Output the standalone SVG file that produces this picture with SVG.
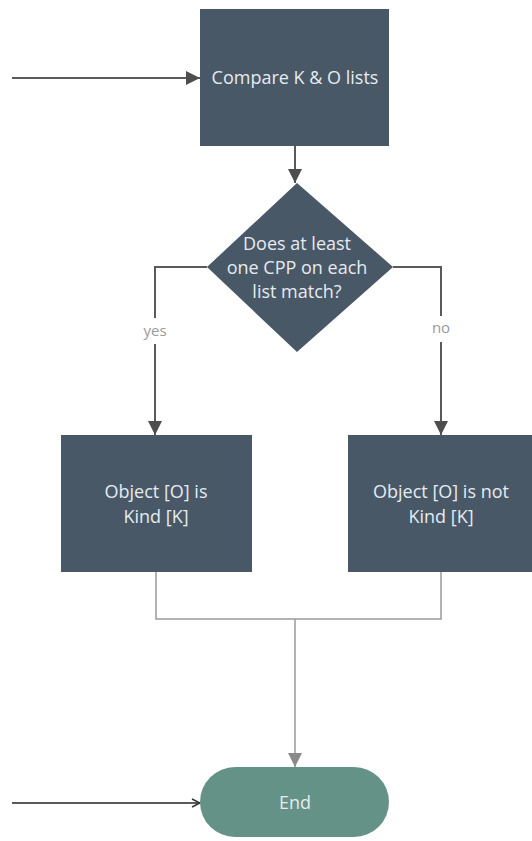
<svg xmlns="http://www.w3.org/2000/svg" width="532" height="841" viewBox="0 0 532 841">
<defs>
<style>
.node{fill:#485867;}
.t{font-family:"Open Sans","Liberation Sans",sans-serif;font-size:18px;fill:#e6ebef;text-anchor:middle;}
.lbl{font-family:"Open Sans","Liberation Sans",sans-serif;font-size:15px;fill:#9a9a9a;text-anchor:middle;}
.c{fill:none;stroke:#5a5a5a;stroke-width:2;}
.cl{fill:none;stroke:#9a9a9a;stroke-width:1.5;}
</style>
<marker id="ah" viewBox="0 0 10 10" refX="10" refY="5" markerWidth="14" markerHeight="14" markerUnits="userSpaceOnUse" orient="auto"><path d="M0,0 L10,5 L0,10 Z" fill="#4e4e4e"/></marker>
<marker id="ahg" viewBox="0 0 10 10" refX="10" refY="5" markerWidth="14" markerHeight="14" markerUnits="userSpaceOnUse" orient="auto"><path d="M0,0 L10,5 L0,10 Z" fill="#8a8a8a"/></marker>
<marker id="ao" viewBox="0 0 10 10" refX="9" refY="5" markerWidth="10" markerHeight="10" markerUnits="userSpaceOnUse" orient="auto"><path d="M1,1 L9,5 L1,9" fill="none" stroke="#333" stroke-width="1.5"/></marker>
</defs>
<g id="connectors">
<line class="c" x1="12" y1="78" x2="200" y2="78" marker-end="url(#ah)"/>
<line class="c" x1="295" y1="146" x2="295" y2="183" marker-end="url(#ah)"/>
<polyline class="c" points="207,267 155,267 155,318"/>
<polyline class="c" points="155,344 155,435" marker-end="url(#ah)"/>
<polyline class="c" points="393,267 441,267 441,316"/>
<polyline class="c" points="441,342 441,435" marker-end="url(#ah)"/>
<polyline class="cl" points="156,572 156,619 441,619 441,572"/>
<line class="cl" x1="295" y1="619" x2="295" y2="767" marker-end="url(#ahg)"/>
<line class="c" x1="12" y1="803" x2="200" y2="803" stroke="#444" stroke-width="1.5" marker-end="url(#ao)"/>
<text class="lbl" x="155" y="336">yes</text>
<text class="lbl" x="441" y="333">no</text>
</g>
<g id="compare">
<rect class="node" x="200" y="9" width="189" height="137"/>
<text class="t" x="295" y="84">Compare K &amp; O lists</text>
</g>
<g id="decision">
<polygon class="node" points="297,183 393,267 297,352 207,267"/>
<text class="t" x="297" y="250">Does at least</text>
<text class="t" x="297" y="274">one CPP on each</text>
<text class="t" x="297" y="298">list match?</text>
</g>
<g id="is-kind">
<rect class="node" x="61" y="435" width="191" height="137"/>
<text class="t" x="156" y="498">Object [O] is</text>
<text class="t" x="156" y="523">Kind [K]</text>
</g>
<g id="not-kind">
<rect class="node" x="348" y="435" width="184" height="137"/>
<text class="t" x="441" y="498">Object [O] is not</text>
<text class="t" x="441" y="523">Kind [K]</text>
</g>
<g id="end">
<rect x="200" y="767" width="189" height="70" rx="35" ry="35" fill="#659286"/>
<text class="t" x="295" y="809">End</text>
</g>
</svg>
